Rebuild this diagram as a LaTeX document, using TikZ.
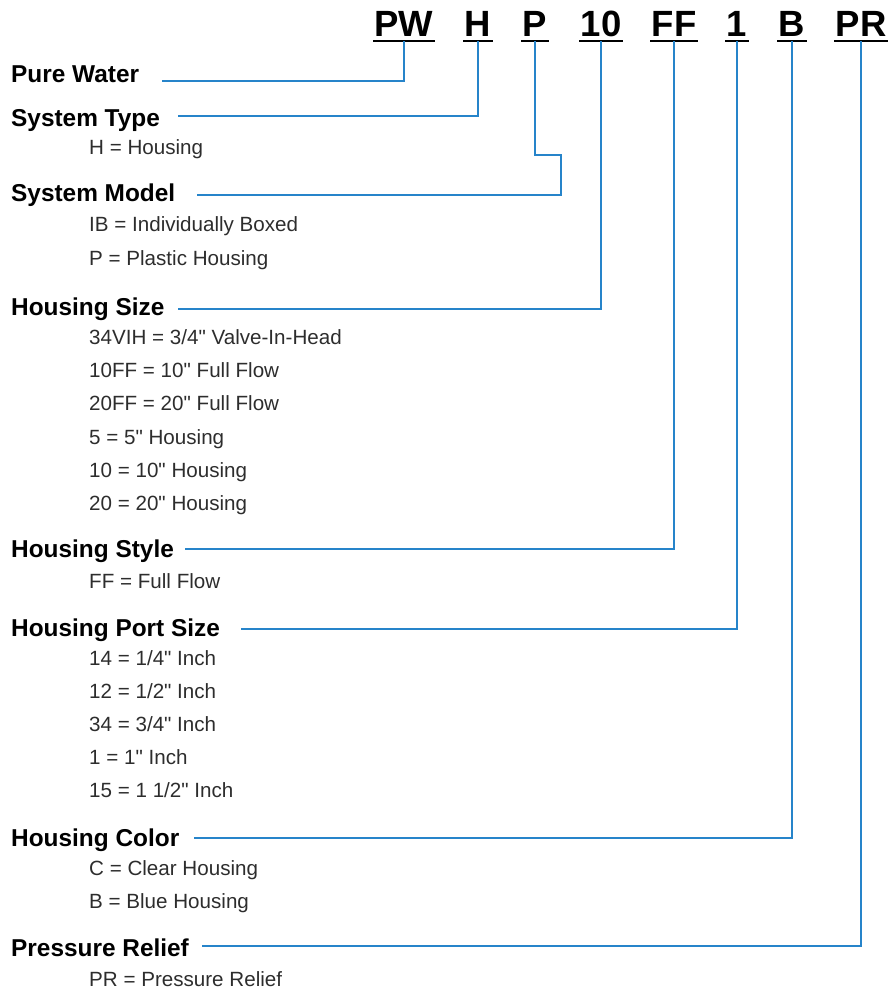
\documentclass[tikz,border=0pt]{standalone}
\usepackage{fontspec}
\setmainfont{Liberation Sans}[Ligatures=TeXOff]
\definecolor{linkblue}{RGB}{38,132,202}
\definecolor{subgray}{RGB}{45,45,45}
\newcommand{\inchmark}{\char34\relax}
\begin{document}
\begin{tikzpicture}[x=1pt,y=-1pt,
  code/.style={anchor=base,inner xsep=1.5pt,inner ysep=4pt,outer sep=0pt,text depth=0pt,font=\fontsize{36.5}{40}\selectfont\bfseries},
  uline/.style={line width=2pt,black},
  label/.style={anchor=base west,inner sep=0pt,font=\fontsize{24.4}{28}\selectfont\bfseries},
  sub/.style={anchor=base west,inner sep=0pt,text=subgray,font=\fontsize{20.6}{24}\selectfont},
  link/.style={line width=2pt,linkblue}]
\useasboundingbox (0,0) rectangle (891,992);
% code letters
\node[code] (pw) at (404,37) {PW};
\node[code] (h)  at (478,37) {H};
\node[code] (p)  at (535,37) {P};
\node[code] (ten) at (601,37) {10};
\node[code] (ff) at (674,37) {FF};
\node[code] (one) at (737,37) {1};
\node[code] (b)  at (792,37) {B};
\node[code] (pr) at (861,37) {PR};
\foreach \n in {pw,h,p,ten,ff,one,b,pr}
  \draw[uline] (\n.south west) -- (\n.south east);
% labels
\node[label] (l1) at (11,82.7) {Pure Water};
\node[label] (l2) at (11,126.7) {System Type};
\node[sub] at (89,155) {H = Housing};
\node[label] (l3) at (11,202) {System Model};
\node[sub] at (89,231.7) {IB = Individually Boxed};
\node[sub] at (89,265.5) {P = Plastic Housing};
\node[label] (l4) at (11,315) {Housing Size};
\node[sub] at (89,344.3) {34VIH = 3/4\inchmark{} Valve-In-Head};
\node[sub] at (89,377.5) {10FF = 10\inchmark{} Full Flow};
\node[sub] at (89,410.8) {20FF = 20\inchmark{} Full Flow};
\node[sub] at (89,444) {5 = 5\inchmark{} Housing};
\node[sub] at (89,477.3) {10 = 10\inchmark{} Housing};
\node[sub] at (89,510.5) {20 = 20\inchmark{} Housing};
\node[label] (l5) at (11,557.3) {Housing Style};
\node[sub] at (89,588.3) {FF = Full Flow};
\node[label] (l6) at (11,636.7) {Housing Port Size};
\node[sub] at (89,665) {14 = 1/4\inchmark{} Inch};
\node[sub] at (89,698) {12 = 1/2\inchmark{} Inch};
\node[sub] at (89,731.2) {34 = 3/4\inchmark{} Inch};
\node[sub] at (89,764.5) {1 = 1\inchmark{} Inch};
\node[sub] at (89,797.7) {15 = 1 1/2\inchmark{} Inch};
\node[label] (l7) at (11,846.7) {Housing Color};
\node[sub] at (89,875) {C = Clear Housing};
\node[sub] at (89,908.3) {B = Blue Housing};
\node[label] (l8) at (11,956.7) {Pressure Relief};
\node[sub] at (89,986) {PR = Pressure Relief};
% connector start points
\coordinate (s1) at (162,81);
\coordinate (s2) at (178,116);
\coordinate (s3) at (197,195);
\coordinate (pj) at (561,155);
\coordinate (s4) at (178,309);
\coordinate (s5) at (185,549);
\coordinate (s6) at (241,629);
\coordinate (s7) at (194,838);
\coordinate (s8) at (202,946);
% connectors
\draw[link] (s1) -| (pw.south);
\draw[link] (s2) -| (h.south);
\draw[link] (s3) -| (pj) -| (p.south);
\draw[link] (s4) -| (ten.south);
\draw[link] (s5) -| (ff.south);
\draw[link] (s6) -| (one.south);
\draw[link] (s7) -| (b.south);
\draw[link] (s8) -| (pr.south);
\end{tikzpicture}
\end{document}
